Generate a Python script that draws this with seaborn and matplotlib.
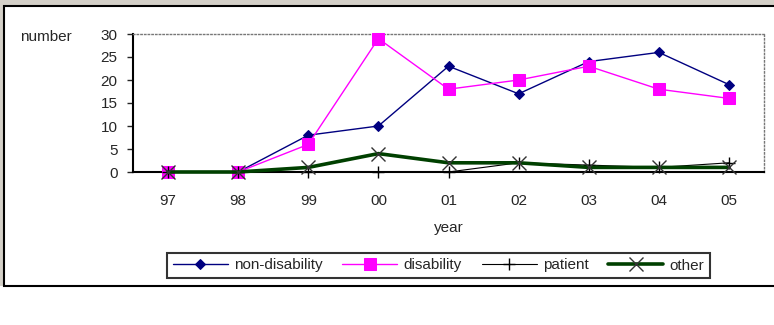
import matplotlib
matplotlib.use("Agg")
import matplotlib.pyplot as plt
from matplotlib.patches import Rectangle
import seaborn as sns

sns.set_theme(style="white")
plt.rcParams['font.family'] = ['Liberation Sans', 'DejaVu Sans']

years = ["97", "98", "99", "00", "01", "02", "03", "04", "05"]
non_disability = [0, 0, 8, 10, 23, 17, 24, 26, 19]
disability = [0, 0, 6, 29, 18, 20, 23, 18, 16]
patient = [0, 0, 0, 0, 0, 2, 1.5, 1, 2]
other = [0, 0, 1, 4, 2, 2, 1, 1, 1]

FS = 11

fig = plt.figure(figsize=(7.74, 3.25), dpi=100)
fig.patch.set_facecolor("white")

# window frame: grey strips on top/left, chart box with black border
fig.patches.append(Rectangle((0, 0), 1, 1, transform=fig.transFigure,
                             facecolor="#d4d0c8", edgecolor="none", zorder=-3))
fig.patches.append(Rectangle((0, 0), 1, 1 - 286 / 325, transform=fig.transFigure,
                             facecolor="white", edgecolor="none", zorder=-2))
fig.patches.append(Rectangle((4 / 774, 1 - 286 / 325), 1, (286 - 6) / 325,
                             transform=fig.transFigure, facecolor="white",
                             edgecolor="black", linewidth=1.5, zorder=-1))

ax = fig.add_axes([133 / 774, 1 - 172 / 325, (764 - 133) / 774, (172 - 34) / 325])
ax.set_facecolor("white")

sns.lineplot(ax=ax, x=years, y=non_disability, color="#000080", linewidth=1,
             marker="D", markersize=5.5, markeredgecolor="#000080",
             label="non-disability", sort=False, clip_on=False, zorder=3)
sns.lineplot(ax=ax, x=years, y=disability, color="#ff00ff", linewidth=1,
             marker="s", markersize=8.5, markeredgecolor="#ff00ff",
             label="disability", sort=False, clip_on=False, zorder=3)
sns.lineplot(ax=ax, x=years, y=patient, color="black", linewidth=0.8,
             marker="+", markersize=9, markeredgewidth=1,
             markeredgecolor="black", label="patient", sort=False,
             clip_on=False, zorder=3)
sns.lineplot(ax=ax, x=years, y=other, color="#004000", linewidth=2.6,
             marker="x", markersize=10, markeredgecolor="#333333",
             markeredgewidth=1, label="other", sort=False, clip_on=False,
             zorder=3)

ax.set_xlim(-0.5, 8.5)
ax.set_ylim(0, 30)
ax.set_yticks(range(0, 31, 5))
ax.set_xticks(range(len(years)))
ax.set_xticklabels(years)
ax.set_xticks([i - 0.5 for i in range(len(years) + 1)], minor=True)
ax.tick_params(axis="x", which="major", length=0, pad=16, labelsize=FS)
ax.tick_params(axis="x", which="minor", length=6, direction="inout", width=1)
ax.tick_params(axis="y", which="major", length=4, direction="out", width=1,
               left=True, labelsize=FS, pad=7)
ax.set_xlabel("year", fontsize=FS, labelpad=9)
ax.set_ylabel("")
ax.text(-0.179, 0.975, "number", transform=ax.transAxes, fontsize=FS,
        ha="left", va="center")

for side in ["left", "bottom"]:
    ax.spines[side].set_color("black")
    ax.spines[side].set_linewidth(1.5)
for side in ["top", "right"]:
    ax.spines[side].set_color("#777777")
    ax.spines[side].set_linewidth(1)
    ax.spines[side].set_linestyle(":")
ax.grid(False)

handles, labels = ax.get_legend_handles_labels()
ax.get_legend().remove()
leg = fig.legend(handles, labels, loc="center", ncol=4,
                 bbox_to_anchor=(438.5 / 774, 1 - 265.5 / 325),
                 frameon=True, fancybox=False, fontsize=FS,
                 handlelength=3.6, columnspacing=1.3, handletextpad=0.4,
                 borderpad=0.35)
leg.get_frame().set_edgecolor("black")
leg.get_frame().set_linewidth(1.5)

fig.savefig("out.png", dpi=100)
